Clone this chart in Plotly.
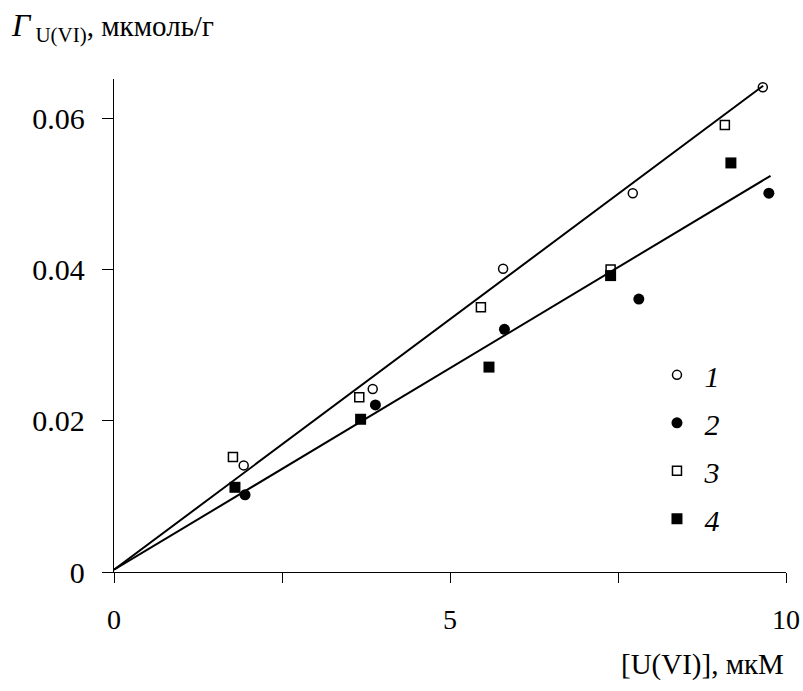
import plotly.graph_objects as go

# Sorption of U(VI): uranium concentration (µM) vs sorbed amount (µmol/g)
x1 = [1.93, 3.85, 5.79, 7.72, 9.655]
y1 = [0.0141, 0.0242, 0.0401, 0.0501, 0.0641]
x2 = [1.95, 3.89, 5.81, 7.81, 9.745]
y2 = [0.0102, 0.0221, 0.0321, 0.0361, 0.0501]
x3 = [1.77, 3.65, 5.46, 7.39, 9.09]
y3 = [0.0152, 0.0231, 0.0350, 0.0400, 0.0591]
x4 = [1.80, 3.67, 5.58, 7.39, 9.18]
y4 = [0.0112, 0.0202, 0.0271, 0.0392, 0.0541]

# Linear fits (two end points each)
fit_upper_x = [0.0, 9.66]
fit_upper_y = [0.0003, 0.0643]
fit_lower_x = [0.0, 9.77]
fit_lower_y = [0.0003, 0.0524]

series_names = ["1", "2", "3", "4"]
x_tickvals = [0, 5, 10]
x_ticktext = ["0", "5", "10"]
y_tickvals = [0, 0.02, 0.04, 0.06]
y_ticktext = ["0", "0.02", "0.04", "0.06"]

FONT = "Liberation Serif"

fig = go.Figure()

for fx, fy in [(fit_upper_x, fit_upper_y), (fit_lower_x, fit_lower_y)]:
    fig.add_trace(go.Scatter(x=fx, y=fy, mode="lines",
                             line=dict(color="black", width=2),
                             showlegend=False, hoverinfo="skip"))

styles = [
    dict(symbol="circle-open", size=9, line=dict(color="black", width=1.5)),
    dict(symbol="circle", size=11, color="black"),
    dict(symbol="square-open", size=9, line=dict(color="black", width=1.5)),
    dict(symbol="square", size=11, color="black"),
]
for i, (xs, ys) in enumerate([(x1, y1), (x2, y2), (x3, y3), (x4, y4)]):
    m = dict(styles[i])
    if "color" not in m:
        m["color"] = "black"
    fig.add_trace(go.Scatter(x=xs, y=ys, mode="markers", marker=m,
                             name="<i>\u00a0" + series_names[i] + "</i>",
                             legendgroup="g" + series_names[i]))

fig.update_layout(
    width=803, height=691,
    margin=dict(l=114, r=17, t=79, b=119, autoexpand=False),
    paper_bgcolor="white", plot_bgcolor="white",
    font=dict(family=FONT, color="black", size=28),
    showlegend=True,
    legend=dict(x=0.808, y=0.4526, xanchor="left", yanchor="top",
                font=dict(family=FONT, size=30, color="black"),
                traceorder="grouped", tracegroupgap=6,
                bgcolor="rgba(0,0,0,0)", borderwidth=0),
    xaxis=dict(range=[0, 10], tickvals=x_tickvals, ticktext=x_ticktext,
               showgrid=False, zeroline=False, showline=True,
               linecolor="black", linewidth=1.3,
               ticks="outside", ticklen=10, tickwidth=1.3, tickcolor="black",
               minor=dict(tick0=0, dtick=2.5, ticks="outside", ticklen=10,
                          tickwidth=1.3, tickcolor="black", showgrid=False),
               ticklabelstandoff=12, automargin=False,
               tickfont=dict(family=FONT, size=28)),
    yaxis=dict(range=[0, 0.0652], tickvals=y_tickvals, ticktext=y_ticktext,
               showgrid=False, zeroline=False, showline=True,
               linecolor="black", linewidth=1.3,
               ticks="outside", ticklen=11, tickwidth=1.3, tickcolor="black",
               ticklabelstandoff=11, automargin=False,
               tickfont=dict(family=FONT, size=30)),
    annotations=[
        dict(xref="paper", yref="paper", x=-0.156, y=1.105,
             xanchor="left", yanchor="middle", showarrow=False,
             text="<span style='font-size:32px'><i>Γ</i></span>"
                  "<sub><span style='font-size:21px'> U(VI)</span></sub>"
                  "<span style='font-size:29px'>, мкмоль/г</span>",
             font=dict(family=FONT, size=29, color="black")),
        dict(xref="paper", yref="paper", x=1.0, y=-0.187,
             xanchor="right", yanchor="middle", showarrow=False,
             text="[U(VI)], мкМ",
             font=dict(family=FONT, size=29, color="black")),
    ],
)

fig.write_html("out.html")
